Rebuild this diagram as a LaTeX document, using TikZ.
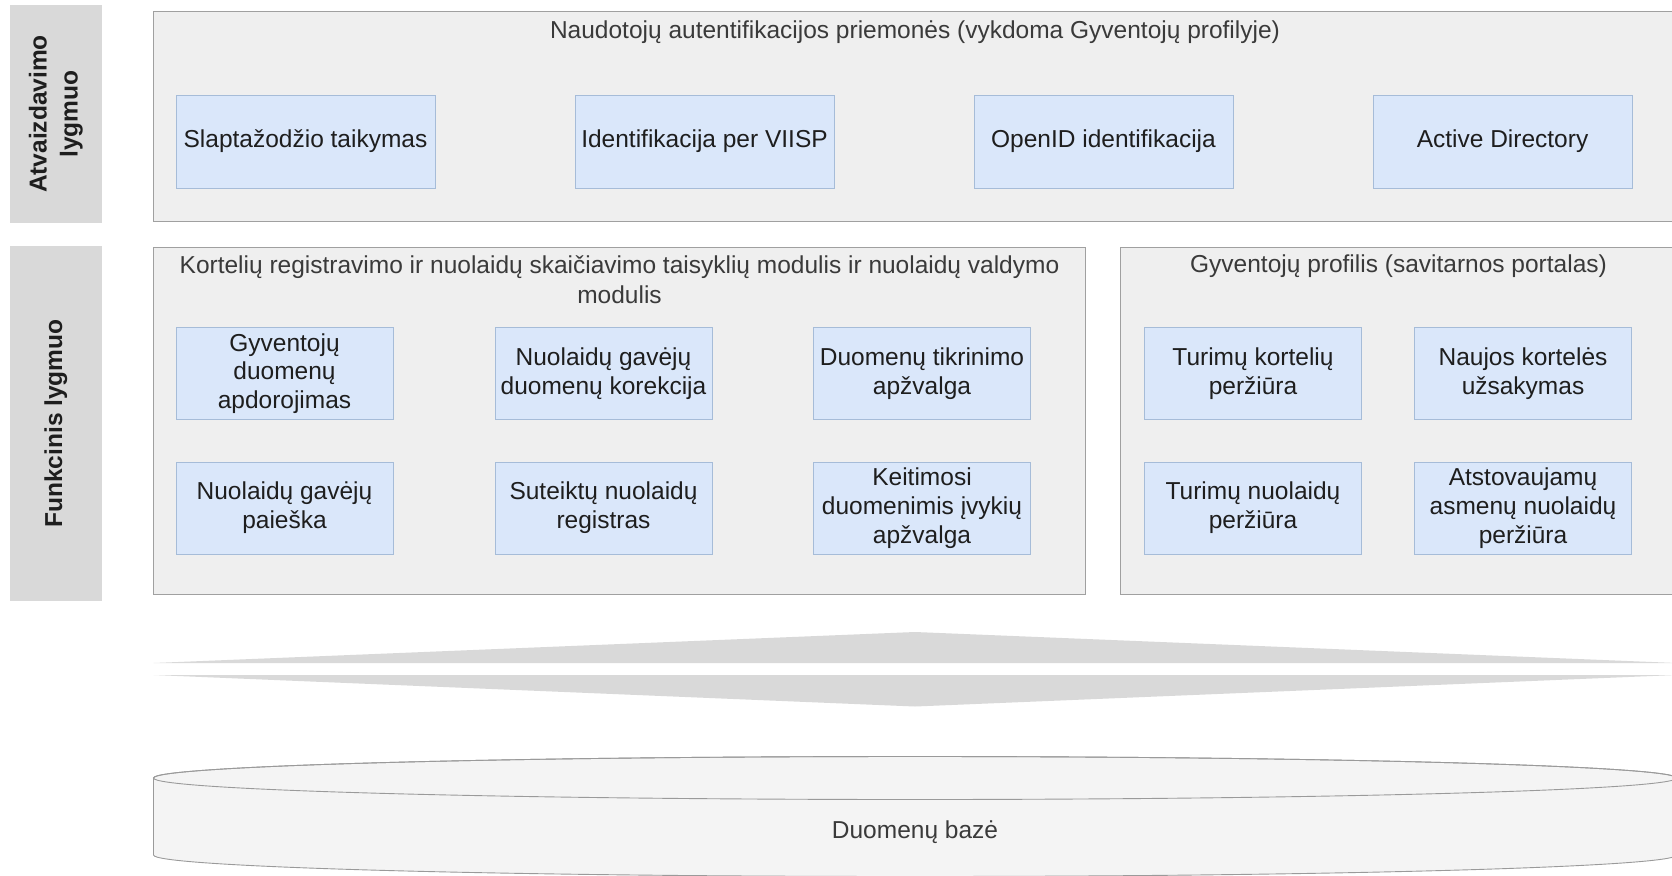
\documentclass[tikz,border=0pt]{standalone}
\usepackage{fontspec}
\setmainfont{Liberation Sans}
\definecolor{contfill}{HTML}{EFEFEF}
\definecolor{contline}{HTML}{A0A0A0}
\definecolor{bluefill}{HTML}{DAE7FA}
\definecolor{blueline}{HTML}{A6BCD8}
\definecolor{lblfill}{HTML}{D9D9D9}
\definecolor{arrowfill}{HTML}{D9D9D9}
\definecolor{dbfill}{HTML}{F4F4F4}
\definecolor{dbline}{HTML}{9A9A9A}
\definecolor{boxtext}{HTML}{1E1E1E}
\definecolor{titletext}{HTML}{3A3A3A}
\begin{document}
\begin{tikzpicture}[x=1pt,y=-1pt,
  every node/.style={inner sep=0pt, outer sep=0pt},
  container/.style={draw=contline, fill=contfill, line width=1pt, rectangle, anchor=north west},
  bluebox/.style={draw=blueline, fill=bluefill, line width=1pt, rectangle, align=center,
    text=boxtext, font=\fontsize{24.5}{28.8}\selectfont},
  topbox/.style={bluebox, minimum width=259pt, minimum height=93pt},
  funcbox/.style={bluebox, minimum width=217pt, minimum height=92pt},
  title/.style={text=titletext, align=center, font=\fontsize{24.5}{30}\selectfont},
  lvlbox/.style={fill=lblfill, rectangle, anchor=north west, minimum width=92.4pt},
  lvltext/.style={rotate=90, align=center, text=boxtext, font=\fontsize{24.5}{31}\selectfont\bfseries},
  arrowpart/.style={fill=arrowfill, draw=none}
]
\useasboundingbox (0,0) rectangle (1672,875);
\clip (0,0) rectangle (1672,875);
\fill[white] (0,0) rectangle (1672,875);

% level labels
\node[lvlbox, minimum height=218pt] (lvl1) at (9.6,5) {};
\node[lvltext] (lvl1t) at (lvl1.center) {Atvaizdavimo\\lygmuo};
\node[lvlbox, minimum height=355pt] (lvl2) at (9.6,246) {};
\node[lvltext] (lvl2t) at (lvl2.center) {Funkcinis lygmuo};

% containers
\node[container, minimum width=1523pt, minimum height=209pt] (auth) at (153.5,12) {};
\node[title] (autht) at (915,32) {Naudotojų autentifikacijos priemonės (vykdoma Gyventojų profilyje)};

\node[container, minimum width=932pt, minimum height=347pt] (mod) at (153.5,247) {};
\node[title] (modt) at (619.5,280) {Kortelių registravimo ir nuolaidų skaičiavimo taisyklių modulis ir nuolaidų valdymo\\modulis};

\node[container, minimum width=556pt, minimum height=347pt] (prof) at (1120.6,247) {};
\node[title] (proft) at (1398.5,266) {Gyventojų profilis (savitarnos portalas)};

% authentication boxes
\node[topbox] (a1) at (305.5,141.5) {Slaptažodžio taikymas};
\node[topbox] (a2) at (704.5,141.5) {Identifikacija per VIISP};
\node[topbox] (a3) at (1103.5,141.5) {OpenID identifikacija};
\node[topbox] (a4) at (1502.5,141.5) {Active Directory};

% module boxes
\node[funcbox] (m1) at (284.5,373.5) {Gyventojų\\duomenų\\apdorojimas};
\node[funcbox] (m2) at (603.5,373.5) {Nuolaidų gavėjų\\duomenų korekcija};
\node[funcbox] (m3) at (922,373.5) {Duomenų tikrinimo\\apžvalga};
\node[funcbox] (m4) at (284.5,508) {Nuolaidų gavėjų\\paieška};
\node[funcbox] (m5) at (603.5,508) {Suteiktų nuolaidų\\registras};
\node[funcbox] (m6) at (922,508) {Keitimosi\\duomenimis įvykių\\apžvalga};

% profile boxes
\node[funcbox] (p1) at (1253,373.5) {Turimų kortelių\\peržiūra};
\node[funcbox] (p2) at (1523,373.5) {Naujos kortelės\\užsakymas};
\node[funcbox] (p3) at (1253,508) {Turimų nuolaidų\\peržiūra};
\node[funcbox] (p4) at (1523,508) {Atstovaujamų\\asmenų nuolaidų\\peržiūra};

% double arrow
\fill[arrowpart] (153.5,663) -- (915,632) -- (1676.5,663) -- cycle;
\fill[arrowpart] (153.5,675) -- (915,706.5) -- (1676.5,675) -- cycle;

% database cylinder
\filldraw[fill=dbfill, draw=dbline, line width=0.9pt]
  (153.5,778) -- (153.5,855)
  arc[start angle=180, end angle=360, x radius=761.5pt, y radius=21.5pt]
  -- (1676.5,778)
  arc[start angle=0, end angle=180, x radius=761.5pt, y radius=21.5pt] -- cycle;
\draw[dbline, line width=0.9pt] (915,778) ellipse [x radius=761.5pt, y radius=21.5pt];
\node[text=titletext, font=\fontsize{24.5}{30}\selectfont] (db) at (915,832) {Duomenų bazė};
\end{tikzpicture}
\end{document}
